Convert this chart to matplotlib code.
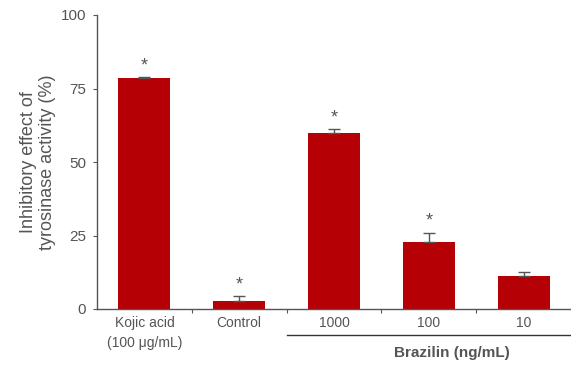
import matplotlib
matplotlib.use("Agg")
import matplotlib.pyplot as plt

categories = ["Kojic acid\n(100 μg/mL)", "Control", "1000", "100", "10"]
values = [78.6, 2.8, 59.9, 22.8, 11.2]
errors = [0.3, 1.5, 1.2, 3.2, 1.3]
significant = [True, True, True, True, False]
group_label = "Brazilin (ng/mL)"

gray = "#555555"
red = "#b50005"
plt.rcParams['font.family'] = ['Liberation Sans', 'DejaVu Sans']

fig = plt.figure(figsize=(5.71, 3.66), dpi=100)
ax = fig.add_axes([97/571, 1-309/366, 1-97/571, (309-15)/366])
x = list(range(len(categories)))
ax.bar(x, values, width=0.55, color=red, zorder=2)
ax.errorbar(x, values, yerr=[[0]*len(errors), errors], fmt='none', ecolor=gray,
            elinewidth=1.0, capsize=4, capthick=1.0, zorder=3)
for xi, v, e, s in zip(x, values, errors, significant):
    if s:
        ax.annotate("*", xy=(xi, v + e), xytext=(0, 2), textcoords='offset points',
                    ha='center', va='bottom', fontsize=13, color=gray)

ax.set_xlim(-0.5, len(categories) - 0.5)
ax.set_ylim(0, 100)
ax.set_yticks([0, 25, 50, 75, 100])
ax.set_xticks([i + 0.5 for i in range(len(categories) - 1)], minor=False)
ax.set_xticklabels([])
ax.set_xticks(x, minor=True)
ax.set_xticklabels(categories, minor=True, linespacing=1.55)
ax.tick_params(axis='x', which='minor', length=0, pad=5, labelsize=10, labelcolor=gray)
ax.tick_params(axis='x', which='major', length=3, color=gray, direction='out')
ax.tick_params(axis='y', length=3, color=gray, labelsize=11, labelcolor=gray, pad=5)
for sp in ['top', 'right']:
    ax.spines[sp].set_visible(False)
for sp in ['left', 'bottom']:
    ax.spines[sp].set_color(gray)
    ax.spines[sp].set_linewidth(1.0)

ax.set_ylabel("Inhibitory effect of\ntyrosinase activity (%)", fontsize=13,
              color=gray, labelpad=3, linespacing=1.15)

# group line and label
fig.add_artist(plt.Line2D([287/571, 1.0], [1-335/366, 1-335/366], color='#333333', lw=1.0))
fig.text(452/571, 1-353/366, group_label, ha='center', va='center', fontsize=11,
         color=gray, fontweight='bold')

fig.savefig("out.png", dpi=100)
